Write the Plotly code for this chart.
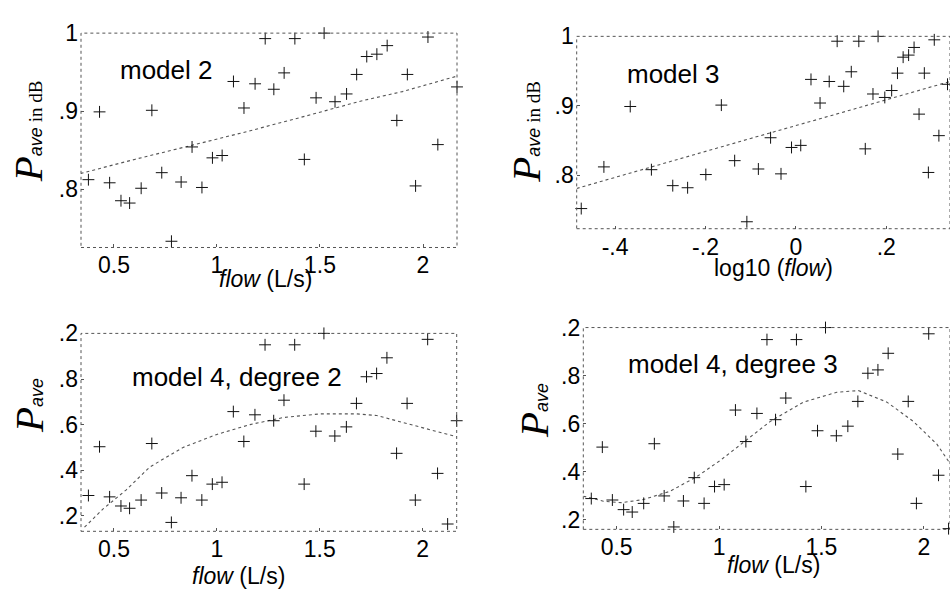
import numpy as np
import plotly.graph_objects as go

# ---------------- data ----------------
flow = [0.335, 0.376, 0.430, 0.479, 0.534, 0.576, 0.632, 0.684, 0.732, 0.779,
        0.826, 0.879, 0.927, 0.978, 1.025, 1.080, 1.131, 1.185, 1.234, 1.276,
        1.326, 1.378, 1.424, 1.481, 1.520, 1.573, 1.629, 1.678, 1.727, 1.776,
        1.826, 1.873, 1.924, 1.964, 2.024, 2.072, 2.121, 2.165]
pave_db = [0.752, 0.812, 0.899, 0.808, 0.785, 0.782, 0.801, 0.901, 0.821, 0.733,
           0.809, 0.854, 0.802, 0.840, 0.843, 0.938, 0.904, 0.935, 0.993, 0.928,
           0.949, 0.993, 0.838, 0.917, 1.000, 0.912, 0.922, 0.947, 0.970, 0.973,
           0.984, 0.888, 0.947, 0.804, 0.995, 0.857, 0.722, 0.931]
pave = [0.200, 0.289, 0.503, 0.283, 0.243, 0.233, 0.269, 0.517, 0.300, 0.171,
        0.279, 0.376, 0.269, 0.339, 0.347, 0.657, 0.526, 0.643, 0.950, 0.617,
        0.707, 0.950, 0.339, 0.571, 1.000, 0.550, 0.590, 0.693, 0.810, 0.824,
        0.893, 0.474, 0.693, 0.269, 0.974, 0.386, 0.164, 0.617]
log_flow = np.log10(flow)

# fitted curves
fit2_x = [0.338, 0.600, 0.877, 1.150, 1.450, 1.700, 1.900, 2.167]
fit2_y = [0.820, 0.838, 0.856, 0.874, 0.895, 0.913, 0.925, 0.945]
fit3_x = [-0.485, -0.300, -0.100, 0.100, 0.200, 0.341]
fit3_y = [0.781, 0.816, 0.853, 0.890, 0.909, 0.935]
fit4a_x = [0.357, 0.446, 0.560, 0.674, 0.836, 1.000, 1.161, 1.323, 1.500, 1.679, 1.776, 1.971, 2.167]
fit4a_y = [0.150, 0.229, 0.314, 0.414, 0.500, 0.557, 0.600, 0.631, 0.647, 0.647, 0.640, 0.593, 0.546]
fit4b_x = [0.337, 0.435, 0.524, 0.630, 0.760, 0.891, 1.005, 1.119, 1.249, 1.412, 1.575, 1.681, 1.820, 1.950, 2.064, 2.129]
fit4b_y = [0.299, 0.278, 0.272, 0.285, 0.319, 0.380, 0.447, 0.522, 0.609, 0.690, 0.731, 0.738, 0.690, 0.609, 0.515, 0.434]

# tick labels
x_ticks_flow = [0.5, 1, 1.5, 2]
x_text_flow = ["0.5", "1", "1.5", "2"]
x_ticks_log = [-0.4, -0.2, 0, 0.2]
x_text_log = ["-.4", "-.2", "0", ".2"]
y_ticks_db = [0.8, 0.9, 1.0]
y_text_db = [".8", ".9", "1"]
y_ticks_p = [0.2, 0.4, 0.6, 0.8, 1.0]
y_text_p = [".2", ".4", ".6", ".8", ".2"]

# ---------------- layout helpers ----------------
W, H = 950, 592
def fx(p):
    return p / W
def fy(p):
    return 1 - p / H

SANS = "Liberation Sans, Arial, sans-serif"
SERIF = "Liberation Serif"

panels = [
    dict(n=1, x0=81, x1=457, y0=20.7, y1=241, xr=[0.34, 2.165], yr=[0.725, 1.0],
         tv=x_ticks_flow, tt=x_text_flow, yv=y_ticks_db, yt=y_text_db),
    dict(n=2, x0=576.7, x1=950, y0=24, y1=221.7, xr=[-0.485, 0.341], yr=[0.723, 1.0],
         tv=x_ticks_log, tt=x_text_log, yv=y_ticks_db, yt=y_text_db),
    dict(n=3, x0=81, x1=456.7, y0=329.3, y1=532.7, xr=[0.34, 2.165], yr=[0.132, 1.0],
         tv=x_ticks_flow, tt=x_text_flow, yv=y_ticks_p, yt=y_text_p),
    dict(n=4, x0=583.3, x1=950, y0=323.3, y1=530.7, xr=[0.337, 2.128], yr=[0.161, 1.0],
         tv=x_ticks_flow, tt=x_text_flow, yv=y_ticks_p, yt=y_text_p),
]

fig = go.Figure()

series = [
    (flow, pave_db, fit2_x, fit2_y),
    (log_flow, pave_db, fit3_x, fit3_y),
    (flow, pave, fit4a_x, fit4a_y),
    (flow, pave, fit4b_x, fit4b_y),
]

layout = dict(width=W, height=H, margin=dict(l=0, r=0, t=0, b=0),
              paper_bgcolor="white", plot_bgcolor="white", showlegend=False,
              font=dict(family=SANS, color="black", size=22))
shapes = []
for p, (sx, sy, cx, cy) in zip(panels, series):
    n = p["n"]
    xa = "x" if n == 1 else f"x{n}"
    ya = "y" if n == 1 else f"y{n}"
    fig.add_trace(go.Scatter(x=cx, y=cy, mode="lines", xaxis=xa, yaxis=ya,
                             line=dict(color="#555555", width=1.1, dash="dot"),
                             hoverinfo="skip", cliponaxis=False))
    fig.add_trace(go.Scatter(x=sx, y=sy, mode="markers", xaxis=xa, yaxis=ya,
                             marker=dict(symbol="cross-thin", size=8.5,
                                         line=dict(color="#111111", width=1)),
                             cliponaxis=False))
    layout[f"xaxis{n}"] = dict(domain=[fx(p["x0"]), fx(p["x1"])], range=p["xr"],
                               anchor=ya, tickvals=p["tv"], ticktext=p["tt"],
                               ticks="inside", ticklen=3, tickcolor="#555",
                               showgrid=False, zeroline=False, showline=False,
                               ticklabelstandoff=2,
                               tickfont=dict(size=23, family=SANS, color="black"))
    layout[f"yaxis{n}"] = dict(domain=[fy(p["y1"]), fy(p["y0"])], range=p["yr"],
                               anchor=xa, tickvals=p["yv"], ticktext=p["yt"],
                               ticks="inside", ticklen=3, tickcolor="#555",
                               showgrid=False, zeroline=False, showline=False,
                               ticklabelstandoff=2,
                               tickfont=dict(size=23, family=SANS, color="black"))
    shapes.append(dict(type="rect", xref=f"{xa} domain", yref=f"{ya} domain",
                       x0=0, x1=1, y0=0, y1=1,
                       line=dict(color="#555", width=1, dash="dot")))

layout["shapes"] = shapes

P_db = (f'<span style="font-family:{SERIF};font-size:41px"><i>P</i></span>'
        f'<span style="font-size:18px"><i>ave</i></span>'
        f'<span style="font-family:{SERIF};font-size:19px"> in dB</span>')
P_plain = (f'<span style="font-family:{SERIF};font-size:41px"><i>P</i></span>'
           f'<span style="font-size:18px"><i>ave</i></span>')

annots = [
    # model labels
    dict(text="model 2", x=166, y=59, size=26),
    dict(text="model 3", x=673, y=63, size=26),
    dict(text="model 4, degree 2", x=237, y=374, size=26),
    dict(text="model 4, degree 3", x=733, y=361, size=26),
    # x titles
    dict(text="<i>flow</i> (L/s)", x=265, y=273, size=23),
    dict(text="log10 (<i>flow</i>)", x=773, y=262, size=23),
    dict(text="<i>flow</i> (L/s)", x=238, y=579, size=23),
    dict(text="<i>flow</i> (L/s)", x=773, y=567, size=23),
]
ann_list = []
for a in annots:
    ann_list.append(dict(text=a["text"], x=fx(a["x"]), y=fy(a["y"]), xref="paper", yref="paper",
                         xanchor="center", yanchor="middle", showarrow=False,
                         font=dict(family=SANS, size=a["size"], color="black")))
for txt, x, y in [(P_db, 27.5, 122), (P_db, 526, 122), (P_plain, 29, 404), (P_plain, 534, 409)]:
    ann_list.append(dict(text=txt, x=fx(x), y=fy(y), xref="paper", yref="paper",
                         xanchor="center", yanchor="middle", showarrow=False, textangle=-90,
                         font=dict(family=SANS, size=22, color="black")))
layout["annotations"] = ann_list

fig.update_layout(**layout)
fig.write_html("out.html")
